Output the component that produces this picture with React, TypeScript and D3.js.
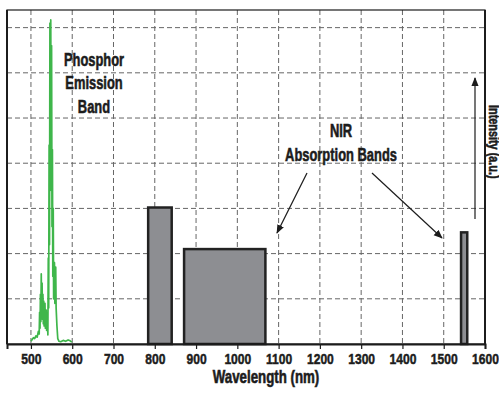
import { useEffect, useRef } from 'react';
import * as d3 from 'd3';

// wavelength ticks along the bottom
const xTicks = [500, 600, 700, 800, 900, 1000, 1100, 1200, 1300, 1400, 1500, 1600];
const yGrid = [1, 2, 3, 4, 5, 6, 7];

// NIR absorption bands: [start nm, end nm, intensity]
const bands: [number, number, number][] = [
  [784, 841, 3.02],
  [871, 1068, 2.1],
  [1542, 1557, 2.47],
];

// phosphor emission spectrum: [nm, intensity]
const emission: [number, number][] = [
  [500, 0.06], [503, 0.1], [506, 0.14], [509, 0.12], [512, 0.18], [515, 0.15], [518, 0.28],
  [520, 0.22], [521, 0.7], [522, 0.35], [523, 1.1], [524, 0.5], [525, 1.55], [526, 0.6],
  [527, 1.35], [528, 0.55], [529, 1.1], [530, 0.45], [531, 0.95], [532, 0.4], [534, 0.9],
  [535, 0.35], [537, 0.75], [538, 0.3], [540, 0.6], [541, 0.2], [542, 1.9], [543, 0.8],
  [544, 4.4], [545, 2.2], [546, 7.1], [547, 3.4], [548, 7.17], [549, 4.0], [550, 6.6],
  [551, 2.6], [552, 4.3], [553, 1.5], [554, 3.0], [555, 1.0], [557, 1.8], [558, 0.9],
  [560, 1.7], [561, 0.8], [563, 0.4], [565, 0.12], [568, 0.06], [572, 0.05], [578, 0.08],
  [584, 0.06], [590, 0.09], [595, 0.07], [599, 0.04],
];

const W = 499;
const H = 394;
const margin = { top: 10, right: 14, bottom: 50, left: 7 };
const FONT = '"Liberation Sans", Arial, sans-serif';
const INK = '#1c1c1c';

function App() {
  const svgRef = useRef<SVGSVGElement>(null);

  useEffect(() => {
    const svg = d3.select(svgRef.current);
    svg.selectAll('*').remove();

    const x = d3.scaleLinear().domain([442, 1600]).range([margin.left, W - margin.right]);
    const y = d3.scaleLinear().domain([0, 7.39]).range([H - margin.bottom, margin.top]);
    const [x0, x1] = x.range();
    const [yb, yt] = y.range();

    svg.append('rect')
      .attr('width', W).attr('height', H).attr('fill', '#fff');

    const defs = svg.append('defs');
    defs.append('marker')
      .attr('id', 'arr')
      .attr('viewBox', '0 0 10 10')
      .attr('refX', 9).attr('refY', 5)
      .attr('markerWidth', 9).attr('markerHeight', 9)
      .attr('markerUnits', 'userSpaceOnUse')
      .attr('orient', 'auto')
      .append('path')
      .attr('d', 'M0,1 L10,5 L0,9 Z')
      .attr('fill', INK);

    // grid
    const grid = svg.append('g')
      .attr('stroke', '#666')
      .attr('stroke-width', 1)
      .attr('stroke-dasharray', '5,3');
    grid.selectAll('.vg')
      .data(xTicks.filter(d => d < 1600))
      .join('line')
      .attr('x1', d => x(d)).attr('x2', d => x(d))
      .attr('y1', yt).attr('y2', yb);
    grid.selectAll('.hg')
      .data(yGrid)
      .join('line')
      .attr('x1', x0).attr('x2', x1)
      .attr('y1', d => y(d)).attr('y2', d => y(d));

    // emission spectrum
    svg.append('path')
      .datum(emission)
      .attr('fill', 'none')
      .attr('stroke', '#3fb64b')
      .attr('stroke-width', 1.7)
      .attr('stroke-linejoin', 'round')
      .attr('d', d3.line<[number, number]>().x(d => x(d[0])).y(d => y(d[1])));

    // absorption bands
    svg.selectAll('.band')
      .data(bands)
      .join('rect')
      .attr('x', d => x(d[0]))
      .attr('y', d => y(d[2]))
      .attr('width', d => x(d[1]) - x(d[0]))
      .attr('height', d => yb - y(d[2]))
      .attr('fill', '#8d8e92')
      .attr('stroke', '#222')
      .attr('stroke-width', 2.5);

    // frame
    svg.append('rect')
      .attr('x', x0).attr('y', yt)
      .attr('width', x1 - x0).attr('height', yb - yt)
      .attr('fill', 'none').attr('stroke', INK).attr('stroke-width', 1.2);
    svg.append('line')
      .attr('x1', x0).attr('x2', x0).attr('y1', yt).attr('y2', yb)
      .attr('stroke', INK).attr('stroke-width', 2);
    svg.append('line')
      .attr('x1', x1).attr('x2', x1).attr('y1', yt).attr('y2', yb)
      .attr('stroke', INK).attr('stroke-width', 2);

    // x axis
    const axis = svg.append('g')
      .attr('transform', `translate(0,${yb})`)
      .call(d3.axisBottom(x).tickValues(xTicks).tickSize(5).tickFormat(d3.format('d')));
    axis.select('.domain').attr('stroke', INK).attr('stroke-width', 2);
    axis.selectAll('.tick line').attr('stroke', INK).attr('stroke-width', 1.2);
    axis.selectAll('.tick text')
      .attr('y', 9)
      .attr('dy', '0.71em')
      .attr('transform', 'scale(0.78,1)')
      .attr('fill', INK)
      .attr('stroke', INK)
      .attr('stroke-width', 0.5)
      .attr('font-family', FONT)
      .attr('font-weight', 'bold')
      .attr('font-size', 15.5);

    // condensed bold label helper
    const label = (tx: number, ty: number, txt: string, size: number, sx = 0.68, rot = 0) => {
      svg.append('g')
        .attr('transform', `translate(${tx},${ty}) rotate(${rot}) scale(${sx},1)`)
        .append('text')
        .attr('text-anchor', rot ? 'start' : 'middle')
        .attr('font-family', FONT)
        .attr('font-weight', 'bold')
        .attr('font-size', size)
        .attr('fill', INK)
        .attr('stroke', INK)
        .attr('stroke-width', 0.6)
        .text(txt);
    };

    label(266, 383, 'Wavelength (nm)', 17.5, 0.76);
    label(94, 66, 'Phosphor', 19);
    label(94, 89, 'Emission', 19);
    label(94, 113, 'Band', 19);
    label(341, 137, 'NIR', 19);
    label(341, 161, 'Absorption Bands', 19);
    label(489, 105, 'Intensity (a.u.)', 14.5, 0.75, 90);

    // arrows
    const arrows = [
      [307, 173, 277, 233],
      [372, 173, 442, 238],
      [475, 219, 475, 78],
    ];
    svg.selectAll('.arrow')
      .data(arrows)
      .join('line')
      .attr('x1', d => d[0]).attr('y1', d => d[1])
      .attr('x2', d => d[2]).attr('y2', d => d[3])
      .attr('stroke', INK)
      .attr('stroke-width', 1.2)
      .attr('marker-end', 'url(#arr)');
  }, []);

  return (
    <svg
      ref={svgRef}
      width={W}
      height={H}
      style={{ position: 'absolute', left: 0, top: 0, display: 'block' }}
    />
  );
}

export default App;
